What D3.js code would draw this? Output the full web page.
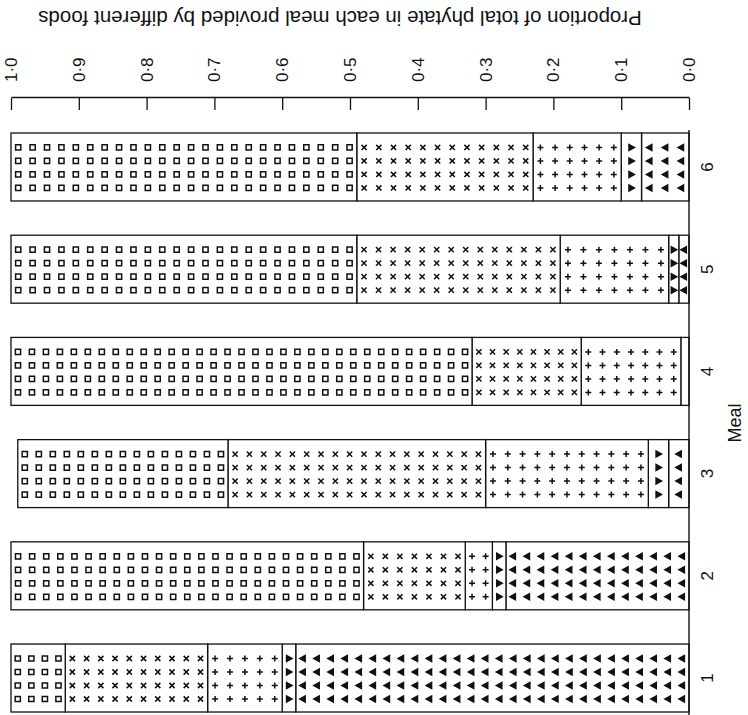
<!DOCTYPE html>
<html>
<head>
<meta charset="utf-8">
<script src="https://cdn.jsdelivr.net/npm/d3@7"></script>
<style>
  body { margin: 0; background: #fff; }
  svg { display: block; }
  text { font-family: "Liberation Sans", Arial, sans-serif; fill: #111; }
</style>
</head>
<body>
<svg id="chart" width="748" height="715"></svg>
<script>
// Proportion of phytate per meal, stacked from 0 upwards
const meals = ["1", "2", "3", "4", "5", "6"];
const foodTriUp   = [0.58, 0.27, 0.03, 0.012, 0.015, 0.07];
const foodTriDown = [0.02, 0.02, 0.03, 0.0,   0.015, 0.03];
const foodPlus    = [0.11, 0.04, 0.24, 0.147, 0.16,  0.13];
const foodCross   = [0.21, 0.15, 0.38, 0.161, 0.30,  0.26];
const foodSquare  = [0.08, 0.52, 0.31, 0.68,  0.51,  0.51];
const tickVals = [0, 0.1, 0.2, 0.3, 0.4, 0.5, 0.6, 0.7, 0.8, 0.9, 1.0];

const svg = d3.select("#chart");

// chart is drawn upright, then turned a quarter turn
const g = svg.append("g").attr("transform", "translate(0,715) rotate(-90)");

const x = d3.scaleBand().domain(meals).range([3, 582]).paddingInner(0.335).paddingOuter(0);
const y = d3.scaleLinear().domain([0, 1]).range([689, 11]);

const keys = ["triUp", "triDown", "plus", "cross", "square"];
const rows = meals.map((m, i) => ({
  meal: m,
  triUp: foodTriUp[i],
  triDown: foodTriDown[i],
  plus: foodPlus[i],
  cross: foodCross[i],
  square: foodSquare[i]
}));
const series = d3.stack().keys(keys)(rows);

const segs = [];
series.forEach(s => {
  s.forEach(d => {
    if (d[1] - d[0] > 0) segs.push({ key: s.key, meal: d.data.meal, v0: d[0], v1: d[1] });
  });
});

const glyphs = {
  square:  { d: "M-2.6,-2.6h5.2v5.2h-5.2z", fill: "none" },
  cross:   { d: "M-2.6,-2.6L2.6,2.6M-2.6,2.6L2.6,-2.6", fill: "none" },
  plus:    { d: "M-3,0H3M0,-3V3", fill: "none" },
  triDown: { d: "M-3,-2.4L3,-2.4L0,3Z", fill: "#111" },
  triUp:   { d: "M-3,2.4L3,2.4L0,-3Z", fill: "#111" }
};

// segment boxes
g.append("g")
  .selectAll("rect")
  .data(segs)
  .join("rect")
  .attr("x", d => x(d.meal))
  .attr("y", d => y(d.v1))
  .attr("width", x.bandwidth())
  .attr("height", d => y(d.v0) - y(d.v1))
  .attr("fill", "#fff")
  .attr("stroke", "#111")
  .attr("stroke-width", 1.3);

// hatch glyphs inside each box
const across = [13, 26.5, 40, 53.5];
const marks = [];
segs.forEach(s => {
  const top = y(s.v1), h = y(s.v0) - y(s.v1);
  if (h < 9) return;
  const n = Math.max(1, Math.round((h - 4) / 14));
  for (let i = 0; i < n; i++) {
    across.forEach(a => {
      marks.push({ key: s.key, cx: x(s.meal) + a, cy: top + (i + 0.5) * h / n });
    });
  }
});

g.append("g")
  .selectAll("path")
  .data(marks)
  .join("path")
  .attr("transform", d => `translate(${d.cx},${d.cy})`)
  .attr("d", d => glyphs[d.key].d)
  .attr("fill", d => glyphs[d.key].fill)
  .attr("stroke", "#111")
  .attr("stroke-width", 1.5);

// baseline at 0
g.append("line")
  .attr("x1", 0).attr("x2", 585)
  .attr("y1", y(0)).attr("y2", y(0))
  .attr("stroke", "#111")
  .attr("stroke-width", 1.4);

// value axis
const axis = g.append("g")
  .attr("transform", "translate(617,0)")
  .call(d3.axisRight(y)
    .tickValues(tickVals)
    .tickSizeInner(-12)
    .tickSizeOuter(0)
    .tickPadding(16)
    .tickFormat(v => d3.format(".1f")(v).replace(".", "\u00b7")));
axis.attr("font-family", null).attr("font-size", null);
axis.selectAll("path, line").attr("stroke", "#111").attr("stroke-width", 1.3);
axis.selectAll("text").style("font-size", "17px").attr("fill", "#111");

// meal labels
g.append("g")
  .selectAll("text")
  .data(meals)
  .join("text")
  .attr("x", d => x(d) + x.bandwidth() / 2)
  .attr("y", 713)
  .attr("text-anchor", "middle")
  .style("font-size", "17px")
  .text(d => d);

g.append("text")
  .attr("x", 292)
  .attr("y", 741)
  .attr("text-anchor", "middle")
  .style("font-size", "18px")
  .text("Meal");

// title, upside down like the scan
svg.append("text")
  .attr("transform", "translate(340,11) rotate(180)")
  .attr("text-anchor", "middle")
  .style("font-size", "20.5px")
  .text("Proportion of total phytate in each meal provided by different foods");
</script>
</body>
</html>
